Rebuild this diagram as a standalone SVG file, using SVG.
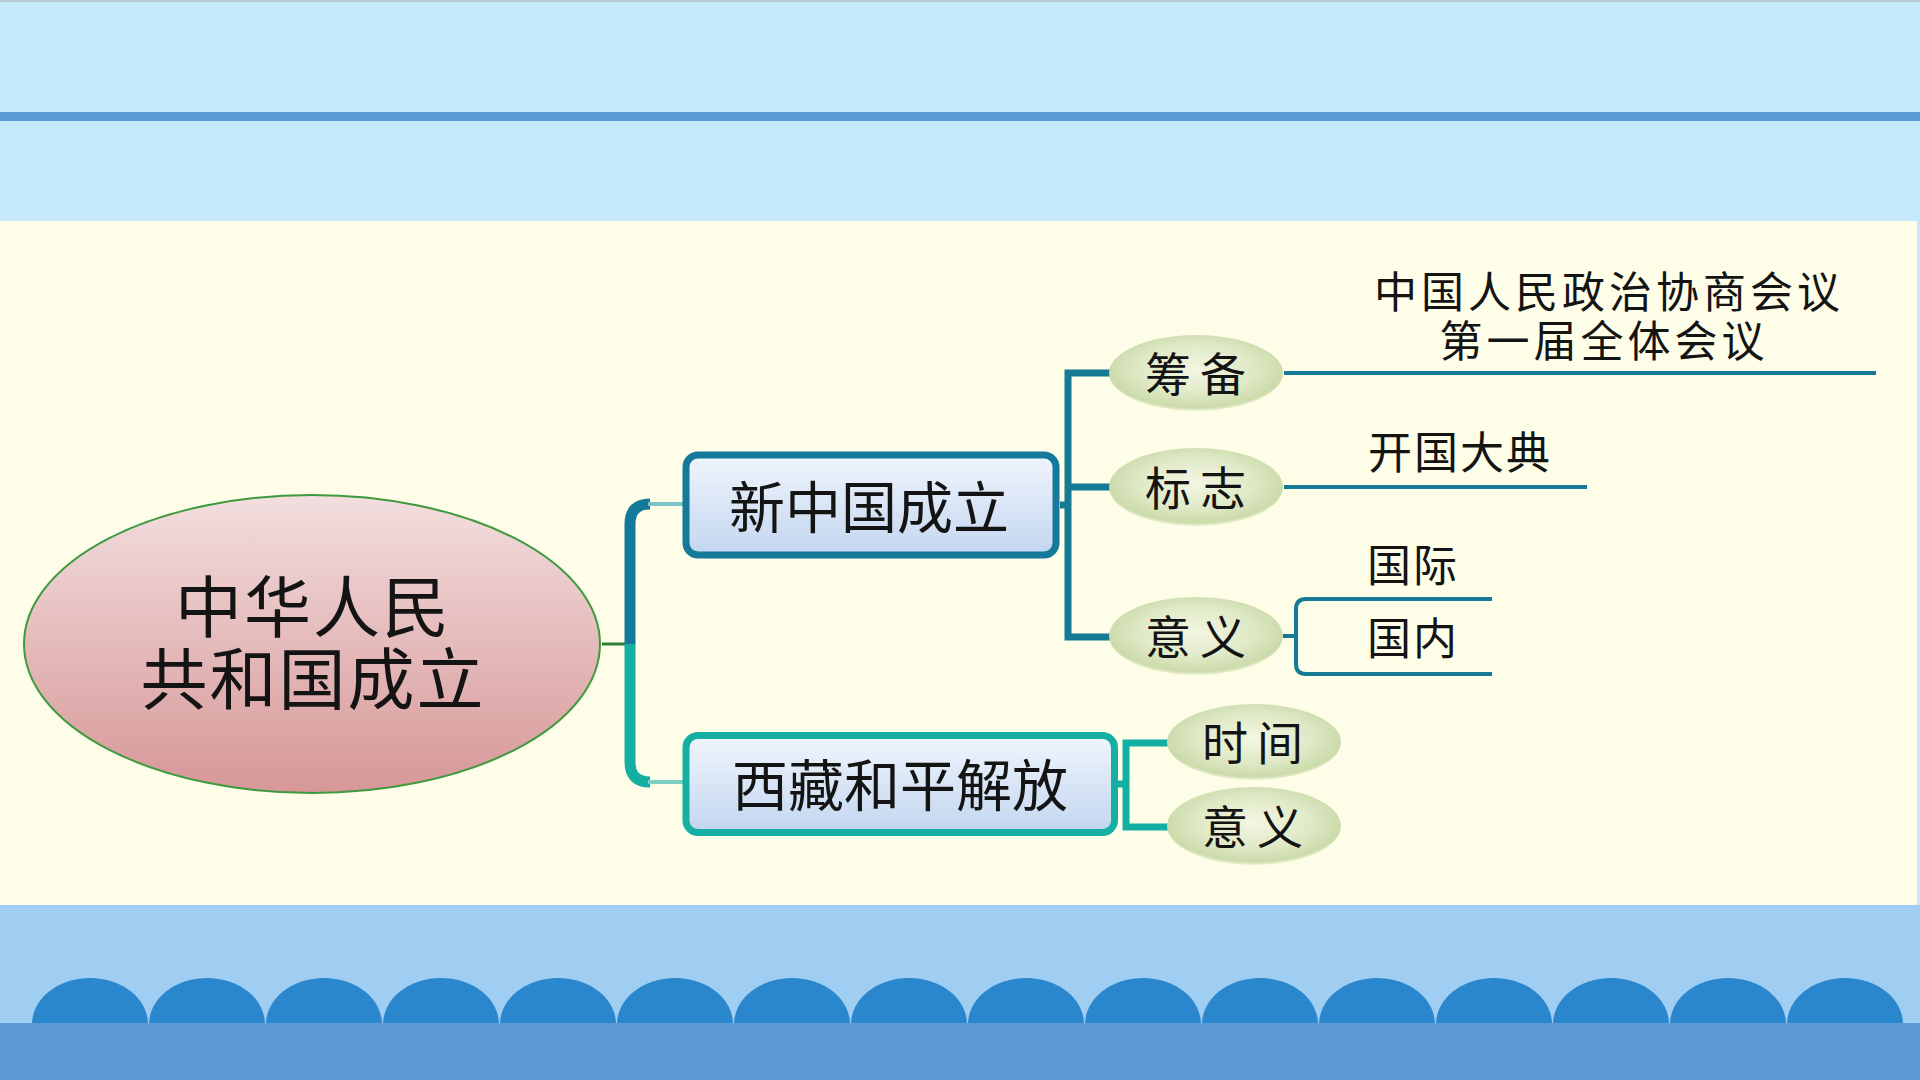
<svg xmlns="http://www.w3.org/2000/svg" width="1920" height="1080" viewBox="0 0 1920 1080">
<defs>
<style>
text{font-family:"Noto Sans CJK SC","Noto Sans",sans-serif;fill:#141414}
.big{font-size:67px;letter-spacing:2px}
.box{font-size:56px}
.small{font-size:46px;letter-spacing:9px}
.leaf{font-size:44px;letter-spacing:2px}
.c1{stroke:#157A94;fill:none}
.c2{stroke:#14AFA3;fill:none}
.pill{fill:url(#gPill)}
.bump{fill:#2B87CD}
</style>
<linearGradient id="gRoot" x1="0" y1="0" x2="0" y2="1">
<stop offset="0" stop-color="#F3DEDF"/>
<stop offset="1" stop-color="#D79797"/>
</linearGradient>
<linearGradient id="gBox" x1="0" y1="0" x2="0" y2="1">
<stop offset="0" stop-color="#F0F5FC"/>
<stop offset="1" stop-color="#C3D6F0"/>
</linearGradient>
<radialGradient id="gPill" cx="0.5" cy="0.45" r="0.55">
<stop offset="0" stop-color="#F3F6E2"/>
<stop offset="0.6" stop-color="#DFE9C6"/>
<stop offset="0.92" stop-color="#CBDBAA"/>
<stop offset="1" stop-color="#CBDBAA" stop-opacity="0.3"/>
</radialGradient>
</defs>

<!-- background -->
<rect x="0" y="0" width="1920" height="1080" fill="#C5E8FB"/>
<rect x="0" y="0" width="1920" height="2" fill="#B7CAD6"/>
<rect x="0" y="112" width="1920" height="9" fill="#5B9BD5"/>
<rect x="0" y="221" width="1917" height="684" fill="#FEFDE8"/>
<rect x="0" y="905" width="1920" height="118" fill="#A0CEF2"/>
<g id="bumps">
<path class="bump" d="M32,1024 A58,46 0 0 1 148,1024 Z"/>
<path class="bump" d="M149,1024 A58,46 0 0 1 265,1024 Z"/>
<path class="bump" d="M266,1024 A58,46 0 0 1 382,1024 Z"/>
<path class="bump" d="M383,1024 A58,46 0 0 1 499,1024 Z"/>
<path class="bump" d="M500,1024 A58,46 0 0 1 616,1024 Z"/>
<path class="bump" d="M617,1024 A58,46 0 0 1 733,1024 Z"/>
<path class="bump" d="M734,1024 A58,46 0 0 1 850,1024 Z"/>
<path class="bump" d="M851,1024 A58,46 0 0 1 967,1024 Z"/>
<path class="bump" d="M968,1024 A58,46 0 0 1 1084,1024 Z"/>
<path class="bump" d="M1085,1024 A58,46 0 0 1 1201,1024 Z"/>
<path class="bump" d="M1202,1024 A58,46 0 0 1 1318,1024 Z"/>
<path class="bump" d="M1319,1024 A58,46 0 0 1 1435,1024 Z"/>
<path class="bump" d="M1436,1024 A58,46 0 0 1 1552,1024 Z"/>
<path class="bump" d="M1553,1024 A58,46 0 0 1 1669,1024 Z"/>
<path class="bump" d="M1670,1024 A58,46 0 0 1 1786,1024 Z"/>
<path class="bump" d="M1787,1024 A58,46 0 0 1 1903,1024 Z"/>
</g>
<rect x="0" y="1023" width="1920" height="57" fill="#5B9AD5"/>

<!-- connectors -->
<g id="connectors">
<line x1="602" y1="644" x2="631" y2="644" stroke="#2E7D32" stroke-width="3"/>
<path d="M630,644 V524 Q630,504 650,504" stroke="#13799A" stroke-width="11" fill="none"/>
<line x1="648" y1="504" x2="684" y2="504" stroke="#7CC0C9" stroke-width="4"/>
<path d="M630,644 V762 Q630,782 650,782" stroke="#14AFA2" stroke-width="11" fill="none"/>
<line x1="648" y1="782" x2="684" y2="782" stroke="#7ED0C7" stroke-width="4"/>

<path class="c1" stroke-width="7" d="M1111,373 H1068 V637 H1111 M1068,487 H1111 M1060,505 H1068"/>
<line class="c1" x1="1284" y1="373" x2="1876" y2="373" stroke-width="4"/>
<line class="c1" x1="1284" y1="487" x2="1587" y2="487" stroke-width="4"/>
<path class="c1" stroke-width="4" d="M1283,636 H1296 M1492,599 H1306 Q1296,599 1296,609 V664 Q1296,674 1306,674 H1492"/>

<path class="c2" stroke-width="7" d="M1168,743 H1126 V827 H1168 M1118,784 H1126"/>
</g>

<!-- nodes -->
<g id="root">
<ellipse cx="312" cy="644" rx="288" ry="149" fill="url(#gRoot)" stroke="#3E9A3E" stroke-width="2"/>
<text class="big" text-anchor="middle"><tspan x="313" y="632">中华人民</tspan><tspan x="313" y="704">共和国成立</tspan></text>
</g>

<g id="n-xinzhongguo">
<rect x="686" y="455" width="370" height="100" rx="12" fill="url(#gBox)" stroke="#14799A" stroke-width="7"/>
<text class="box" x="869" y="528" text-anchor="middle">新中国成立</text>
</g>

<g id="n-xizang">
<rect x="686" y="735.5" width="428.5" height="97" rx="12" fill="url(#gBox)" stroke="#15B0A3" stroke-width="7"/>
<text class="box" x="900" y="806" text-anchor="middle">西藏和平解放</text>
</g>

<g id="n-choubei">
<ellipse class="pill" cx="1196" cy="373" rx="87" ry="38"/>
<text class="small" x="1145" y="391">筹备</text>
</g>
<g id="n-biaozhi">
<ellipse class="pill" cx="1196" cy="487" rx="87" ry="39"/>
<text class="small" x="1145" y="505">标志</text>
</g>
<g id="n-yiyi1">
<ellipse class="pill" cx="1196" cy="636" rx="87" ry="39"/>
<text class="small" x="1145" y="654">意义</text>
</g>
<g id="n-shijian">
<ellipse class="pill" cx="1254" cy="742" rx="87" ry="38"/>
<text class="small" x="1202" y="760">时间</text>
</g>
<g id="n-yiyi2">
<ellipse class="pill" cx="1254" cy="826" rx="87" ry="39"/>
<text class="small" x="1202" y="844">意义</text>
</g>

<g id="n-zhengxie">
<text class="leaf" text-anchor="middle" style="font-size:43px;letter-spacing:4px"><tspan x="1609" y="308">中国人民政治协商会议</tspan><tspan x="1604" y="357">第一届全体会议</tspan></text>
</g>
<g id="n-kaiguo">
<text class="leaf" x="1368" y="469">开国大典</text>
</g>
<g id="n-guoji">
<text class="leaf" x="1367" y="582">国际</text>
</g>
<g id="n-guonei">
<text class="leaf" x="1367" y="655">国内</text>
</g>
</svg>
